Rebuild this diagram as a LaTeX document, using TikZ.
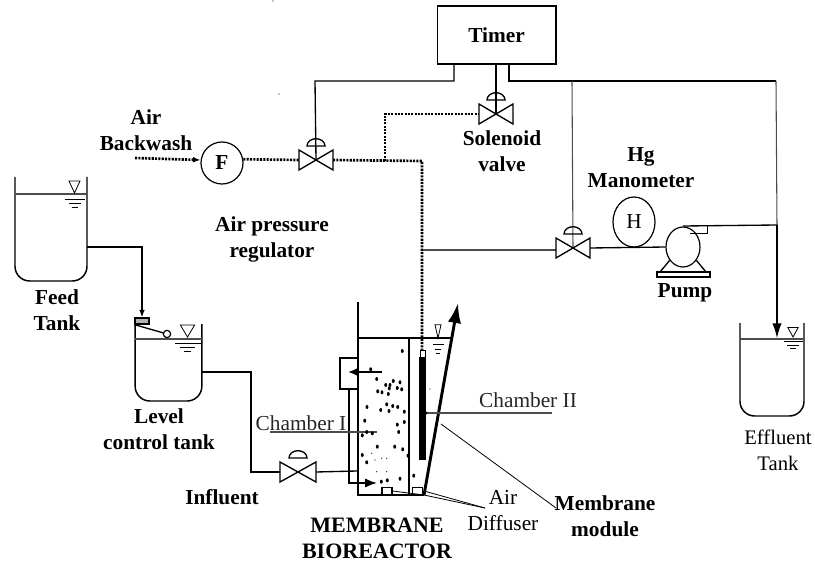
\documentclass[tikz,border=0pt]{standalone}
\usepackage{fontspec}
\setmainfont{Liberation Serif}
\usepackage{tikz}
\usetikzlibrary{arrows.meta,shapes.geometric}
\tikzstyle{boldlabel}=[inner sep=0pt, align=center, font=\fontsize{16}{19.5}\selectfont\bfseries]
\tikzstyle{plainlabel}=[inner sep=0pt, align=center, font=\fontsize{16}{19.5}\selectfont]
\tikzstyle{valve}=[inner sep=0pt, outer sep=0pt, minimum width=25.5pt, minimum height=15pt]
\tikzstyle{tank}=[inner sep=0pt, outer sep=0pt]
\tikzstyle{wire}=[draw=black, line width=1pt]
\tikzstyle{thinwire}=[draw=black!70, line width=0.8pt]
\tikzstyle{airline}=[draw=black, line width=2pt, dash pattern=on 1.6pt off 0.9pt]
\tikzstyle{wall}=[draw=black, line width=1.1pt]
\tikzstyle{thickwall}=[draw=black, line width=1.9pt]
\newcommand{\valvebody}[1]{
	\draw [wire] (#1.north west) -- (#1.south east) -- (#1.north east) -- (#1.south west) -- cycle;
	\draw [wire] ([xshift=-6.75pt, yshift=10.5pt]#1.center) arc[start angle=180, end angle=0, x radius=6.75pt, y radius=5.5pt] -- cycle;
}
\newcommand{\tankbody}[1]{
	\draw [wall, rounded corners=11pt] (#1.north west) -- (#1.south west) -- (#1.south east) -- (#1.north east);
}
% x, y of the triangle tip, then width and height scale
\newcommand{\levelmark}[4]{
	\begin{scope}[shift={(#1, #2)}, xscale=#3, yscale=#4]
		\draw [line width=0.6pt] (-5.5, -12) -- (5.5, -12) -- (0, 0) -- cycle;
		\draw [line width=0.6pt] (-10, 6) -- (10, 6);
		\draw [line width=0.6pt] (-6, 10) -- (6, 10);
		\draw [line width=0.6pt] (-3, 14) -- (3, 14);
	\end{scope}
}

\begin{document}
\begin{tikzpicture}[x=0.75pt, y=-0.75pt]
	\useasboundingbox (0, 0) rectangle (815, 567);
	\begin{scope}
		\node (timer) at (496.5, 35)[draw, line width=1pt, minimum width=89pt, minimum height=43.5pt, boldlabel] {Timer};
		\node (flow) at (222, 163)[draw, circle, line width=0.9pt, minimum size=31.5pt, boldlabel] {F};
		\node (regvalve) at (316, 160)[valve] {};
		\node (solvalve) at (496, 114)[valve] {};
		\node (drawvalve) at (573, 248)[valve] {};
		\node (inflvalve) at (298, 472)[valve, minimum width=27pt] {};
		\node (mano) at (634, 222)[draw, ellipse, line width=0.9pt, inner sep=0pt, minimum width=31.5pt, minimum height=37.5pt, plainlabel] {\raisebox{-3pt}{H}};
		\node (pump) at (683, 247)[draw, ellipse, line width=0.9pt, inner sep=0pt, minimum width=25.5pt, minimum height=30pt] {};
		\node (feed) at (51, 229)[tank, minimum width=54pt, minimum height=78pt] {};
		\node (level) at (168.5, 362.5)[tank, minimum width=50pt, minimum height=57.75pt] {};
		\node (effluent) at (772, 369.5)[tank, minimum width=48pt, minimum height=69.75pt] {};
		\node (float) at (142, 321)[draw, fill=black!30, line width=0.9pt, inner sep=0pt, minimum width=10.5pt, minimum height=4.5pt] {};
		\node (ball) at (167, 334)[draw, fill=white, circle, line width=0.9pt, inner sep=0pt, minimum size=5.5pt] {};
		\node (membrane) at (422.5, 408.5)[fill=black, inner sep=0pt, minimum width=5.25pt, minimum height=77pt] {};
		\node (membcap) at (422.5, 353.5)[draw, line width=0.6pt, inner sep=0pt, minimum width=3.75pt, minimum height=5.25pt] {};
		\node (recycle) at (349, 373.5)[draw, line width=1.2pt, inner sep=0pt, minimum width=13.5pt, minimum height=23.25pt] {};
		\node (diffa) at (387, 491)[draw, line width=0.9pt, inner sep=0pt, minimum width=7.5pt, minimum height=5.25pt] {};
		\node (diffb) at (417.5, 491)[draw, line width=0.9pt, inner sep=0pt, minimum width=7.5pt, minimum height=5.25pt] {};
		\node (pumpbase) at (683.5, 274.5)[draw, fill=white, line width=0.8pt, inner sep=0pt, minimum width=39.75pt, minimum height=3.75pt] {};
	\end{scope}
	\begin{scope}
		\node (airlabel) at (146, 130)[boldlabel] {Air\\Backwash};
		\node (reglabel) at (272, 239)[boldlabel] {Air pressure\\regulator};
		\node (sollabel) at (502, 151)[boldlabel] {Solenoid\\valve};
		\node (hglabel) at (641, 168)[boldlabel] {Hg\\Manometer};
		\node (pumplabel) at (685, 293)[boldlabel] {Pump};
		\node (feedlabel) at (57, 310)[boldlabel] {Feed\\Tank};
		\node (levellabel) at (159, 429)[boldlabel] {Level\\control tank};
		\node (infllabel) at (222, 497)[boldlabel] {Influent};
		\node (mbrlabel) at (377, 538.5)[boldlabel, font=\fontsize{16.5}{20}\selectfont\bfseries] {MEMBRANE\\BIOREACTOR};
		\node (modlabel) at (605, 516)[boldlabel] {Membrane\\module};
		\node (chamblabela) at (301, 423)[plainlabel, text=black!85] {Chamber I};
		\node (chamblabelb) at (528, 400)[plainlabel, text=black!85] {Chamber II};
		\node (difflabel) at (503, 510.5)[plainlabel] {Air\\Diffuser};
		\node (efflabel) at (778, 450)[plainlabel, font=\fontsize{15.5}{19.5}\selectfont] {Effluent\\Tank};
	\end{scope}
	\begin{scope}
		\coordinate (airin) at (135, 158);
		\coordinate (timera) at (454, 64);
		\coordinate (timerb) at (509, 64);
		\coordinate (benda) at (315, 81);
		\coordinate (bendb) at (776, 81);
		\coordinate (branch) at (385, 161);
		\coordinate (drop) at (422, 161);
		\coordinate (droptop) at (385, 114);
		\coordinate (dropend) at (422, 350);
		\coordinate (suction) at (423, 250);
		\coordinate (suctionend) at (556, 250);
		\coordinate (drawtop) at (572, 81);
		\coordinate (pumptop) at (683, 226);
		\coordinate (outlet) at (777, 225);
		\coordinate (efftip) at (777, 338);
		\coordinate (feedout) at (87, 247);
		\coordinate (levelout) at (202, 372);
		\coordinate (inflbend) at (251, 372);
		\coordinate (inflin) at (357, 471);
		\coordinate (wallL) at (358, 302);
		\coordinate (cornerL) at (358, 495);
		\coordinate (cornerR) at (424, 495);
		\coordinate (wallR) at (458, 303);
		\coordinate (recycleA) at (382, 372);
		\coordinate (recycleB) at (348, 372);
		\coordinate (recycleC) at (349, 389);
		\coordinate (recycleD) at (377, 483);
		\coordinate (diffuser) at (485, 508);
		\coordinate (diffend) at (424, 491);
		\coordinate (chambA) at (270, 432);
		\coordinate (chambB) at (377, 432);
		\coordinate (chambC) at (426, 413);
		\coordinate (chambD) at (552, 413);
		\coordinate (modA) at (441, 424);
		\coordinate (modB) at (556, 508);
		\coordinate (outa) at (707, 226);
		\coordinate (outb) at (690, 233);
		\coordinate (lega) at (660, 272);
		\coordinate (legb) at (706, 272);
		% air lines
		\draw [airline, -{Latex[length=2mm]}] (airin) -- (flow.172);
		\draw [airline] (flow.10) -- (regvalve.west);
		\draw [airline] (regvalve.east) -- (drop) -- (dropend);
		\draw [airline] (branch) -- (droptop) -- (solvalve.west);
		% timer lines
		\draw [wire] (timera) |- (benda) -- (regvalve.center);
		\draw [wire] (timerb) |- (bendb);
		\draw [wire] (timer.south -| solvalve) -- (solvalve.center);
		\draw [thinwire] (drawtop) -- (drawvalve.center);
		\draw [thinwire] (bendb) -- (outlet);
		% permeate side
		\draw [thinwire] (suction) -- (suctionend);
		\draw [wire] (drawvalve.east) -- (pump.west);
		\draw [wire] (pumptop) -- (outlet);
		\draw [wire, -{Latex[length=11pt, width=7pt]}] (outlet) -- (efftip);
		\draw [wire, line width=0.7pt] (outa) |- (outb);
		\draw [wire] (pump.-135) -- (lega);
		\draw [wire] (pump.-45) -- (legb);
		% feed side
		\draw [wire, -{Latex[length=2mm]}] (feedout) -| (float.north);
		\draw [wire] (levelout) -- (inflbend) |- (inflvalve.west);
		\draw [wire] (inflvalve.east) -- (inflin);
		\draw [wire] (float.south west) -- (ball);
		% tanks
		\tankbody{feed}
		\tankbody{level}
		\tankbody{effluent}
		\draw [thinwire] (feed.west |- 0, 194) -- (feed.east |- 0, 194);
		\draw [thinwire] (level.west |- 0, 339) -- (level.east |- 0, 339);
		\draw [thinwire] (effluent.west |- 0, 339) -- (effluent.east |- 0, 339);
		\levelmark{74.5}{193}{1}{1}
		\levelmark{187.5}{337}{1.3}{1}
		\levelmark{793}{337}{0.95}{0.8}
		\levelmark{438}{338}{0.55}{1.1}
		% reactor
		\draw [thickwall] (wallL) -- (cornerL) -- (cornerR);
		\draw [thickwall, line width=2.2pt, -{Latex[length=15pt, width=10pt]}] (cornerR) -- (wallR);
		\draw [wall] (409, 337) -- (409, 495);
		\draw [wire, line width=0.8pt] (358, 338) -- (453, 338);
		\draw [thickwall, -{Latex[length=7pt, width=6pt]}] (recycleA) -- (recycleB);
		\draw [thickwall, line width=1.4pt, -{Latex[length=9pt, width=7pt]}] (recycleC) |- (recycleD);
		% pointer lines
		\draw [thinwire] (chambA) -- (chambB);
		\draw [thinwire] (chambC) -- (chambD);
		\fill (chambC) circle (1.5);
		\draw [wire, line width=0.6pt] (modA) -- (modB);
		\draw [wire, line width=0.6pt] (diffa.east) -- (cornerR);
		\draw [wire, line width=0.6pt] (diffend) -- (diffuser);
		\draw [wire, line width=0.6pt] (cornerR) -- (diffuser);
	\end{scope}
	\foreach \v in {regvalve, solvalve, drawvalve, inflvalve} {
		\valvebody{\v}
	}
	% sludge flocs
	\foreach \dotx/\doty in {402.3/351, 370.7/369.3, 376.7/379, 393.3/381, 400/382.3, 385.7/385, 390/385, 397.3/388, 401.7/389.3, 377.7/391.3, 382/392.3, 388.3/394, 389.3/388.3, 367/407, 386.7/404.3, 392.7/406, 397.7/407, 380.7/410, 389/411, 404.3/411.7, 364.7/420.7, 404.3/422, 397.3/424.7, 398.7/432, 362.3/435.3, 366.7/432, 372.3/433.3, 377.3/446.7, 394.7/446.7, 402.7/449.3, 362.3/455, 366.7/462.3, 408/455.7, 400/478.7, 413.7/475.7, 387.3/480.3, 381.3/481.7} {
		\fill (\dotx, \doty) circle [x radius=1.1pt, y radius=1.5pt];
	}
	\foreach \dotx/\doty in {430/389, 371.7/453.3, 375/460, 381.7/458.3, 386.7/458.3, 376.7/471.7, 386.7/471.7, 279/94, 273/1} {
		\fill (\dotx, \doty) circle [radius=0.45pt];
	}
\end{tikzpicture}
\end{document}
